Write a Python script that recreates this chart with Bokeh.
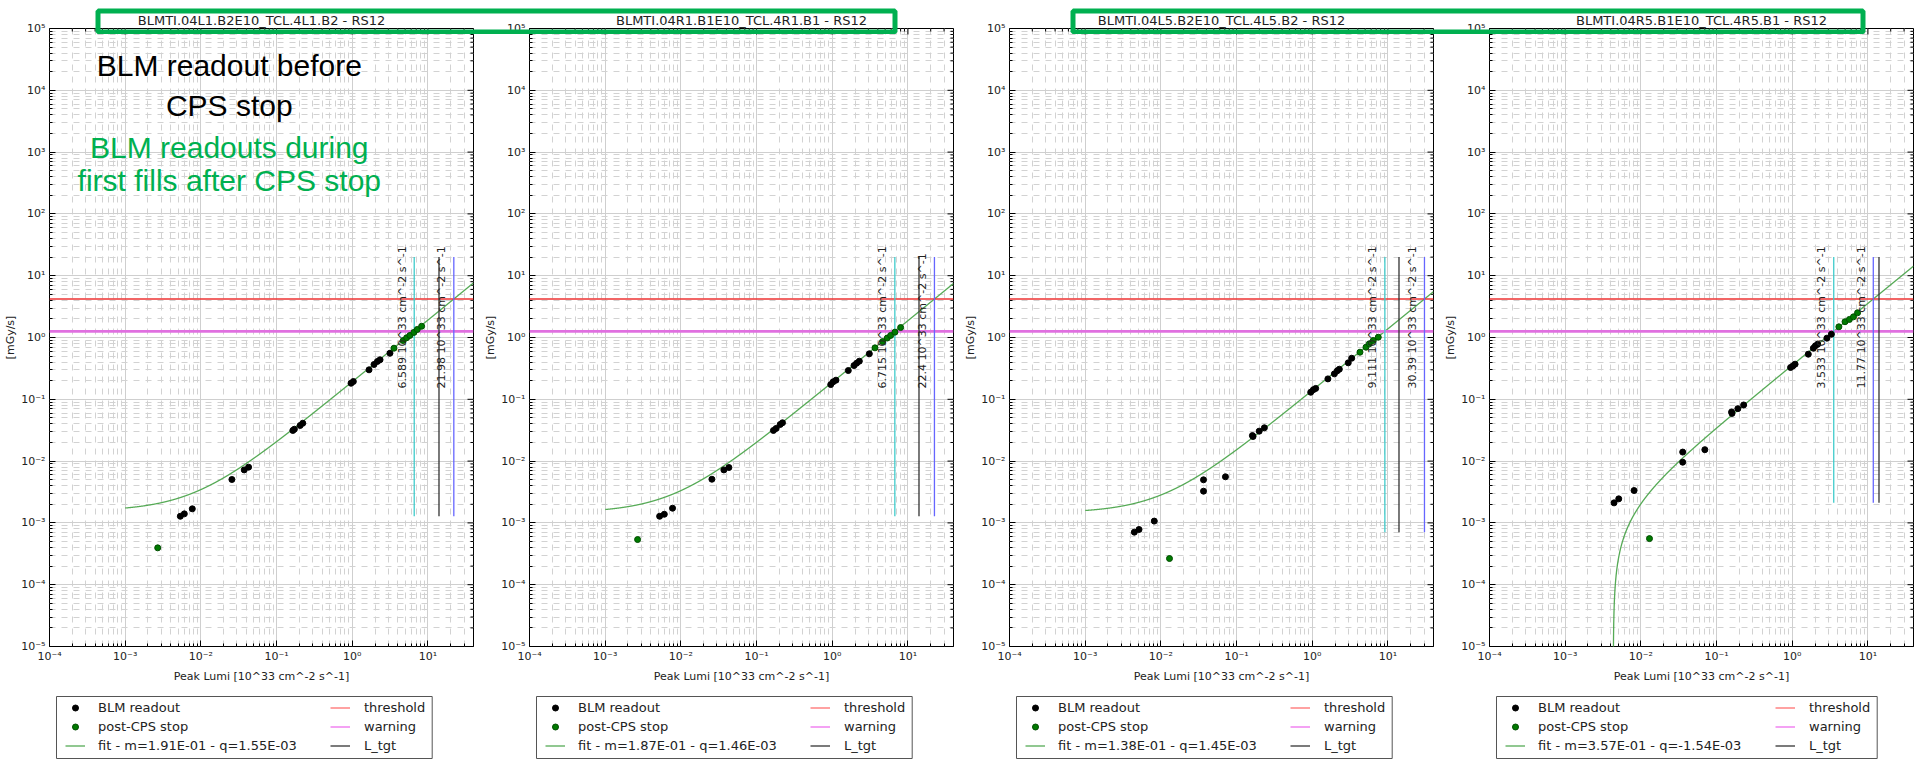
import numpy as np
from bokeh.plotting import figure
from bokeh.models import (Range1d, FixedTicker, CustomJSTickFormatter, ColumnDataSource,
                          Legend, LegendItem, Label, BoxAnnotation)
from bokeh.layouts import row, column
from bokeh.embed import file_html
from bokeh.resources import INLINE

# ------------------------------------------------------------------ data
panel_titles = ["BLMTI.04L1.B2E10_TCL.4L1.B2 - RS12",
                "BLMTI.04R1.B1E10_TCL.4R1.B1 - RS12",
                "BLMTI.04L5.B2E10_TCL.4L5.B2 - RS12",
                "BLMTI.04R5.B1E10_TCL.4R5.B1 - RS12"]

# panel 1 : BLMTI.04L1
p1_blm_lumi = [0.00535, 0.00604, 0.0077, 0.0257, 0.0374, 0.0427, 0.164, 0.172, 0.205, 0.222,
               0.964, 1.034, 1.667, 1.94, 2.15, 2.33, 3.15]
p1_blm_dose = [1.28e-3, 1.40e-3, 1.69e-3, 5.04e-3, 7.2e-3, 7.98e-3, 0.0313, 0.0328, 0.0377, 0.0410,
               0.182, 0.194, 0.30, 0.366, 0.41, 0.436, 0.557]
p1_post_lumi = [0.00269, 3.56, 4.72, 5.23, 5.78, 6.53, 7.23, 8.26]
p1_post_dose = [3.95e-4, 0.671, 0.893, 0.99, 1.08, 1.21, 1.35, 1.52]

# panel 2 : BLMTI.04R1
p2_blm_lumi = [0.00524, 0.00604, 0.00776, 0.0257, 0.0370, 0.0431, 0.167, 0.181, 0.205, 0.220,
               0.955, 1.03, 1.12, 1.63, 1.94, 2.10, 2.28, 3.09]
p2_blm_dose = [1.28e-3, 1.38e-3, 1.73e-3, 5.09e-3, 7.2e-3, 7.87e-3, 0.0313, 0.0337, 0.0391, 0.0417,
               0.173, 0.192, 0.204, 0.292, 0.352, 0.384, 0.414, 0.545]
p2_post_lumi = [0.00268, 3.67, 4.63, 5.33, 5.91, 6.73, 8.01]
p2_post_dose = [5.38e-4, 0.68, 0.86, 0.98, 1.08, 1.22, 1.45]

# panel 3 : BLMTI.04L5
p3_blm_lumi = [0.00446, 0.00514, 0.00818, 0.0366, 0.0366, 0.0713, 0.162, 0.165, 0.199, 0.233,
               0.955, 1.034, 1.11, 1.61, 1.96, 2.14, 2.28, 2.99, 3.32]
p3_blm_dose = [7.08e-4, 7.82e-4, 1.07e-3, 3.26e-3, 4.98e-3, 5.57e-3, 0.0259, 0.0250, 0.0305, 0.0346,
               0.130, 0.143, 0.150, 0.214, 0.258, 0.289, 0.307, 0.389, 0.462]
p3_post_lumi = [0.0130, 4.27, 5.13, 5.67, 6.40, 7.45]
p3_post_dose = [2.65e-4, 0.578, 0.697, 0.791, 0.894, 1.01]

# panel 4 : BLMTI.04R5
p4_blm_lumi = [0.00442, 0.0051, 0.00813, 0.0357, 0.0357, 0.070, 0.158, 0.160, 0.191, 0.228,
               0.95, 1.02, 1.09, 1.63, 1.90, 2.02, 2.17, 2.87, 3.29]
p4_blm_dose = [2.11e-3, 2.45e-3, 3.34e-3, 0.0140, 9.6e-3, 0.0153, 0.0623, 0.0591, 0.0706, 0.081,
               0.327, 0.347, 0.37, 0.537, 0.671, 0.733, 0.78, 0.976, 1.13]
p4_post_lumi = [0.0130, 4.13, 4.98, 5.69, 6.44, 7.29]
p4_post_dose = [5.57e-4, 1.49, 1.80, 1.96, 2.16, 2.51]

blm_lumi = [p1_blm_lumi, p2_blm_lumi, p3_blm_lumi, p4_blm_lumi]
blm_dose = [p1_blm_dose, p2_blm_dose, p3_blm_dose, p4_blm_dose]
post_lumi = [p1_post_lumi, p2_post_lumi, p3_post_lumi, p4_post_lumi]
post_dose = [p1_post_dose, p2_post_dose, p3_post_dose, p4_post_dose]

fit_m = [0.191, 0.187, 0.138, 0.357]
fit_q = [1.55e-3, 1.46e-3, 1.45e-3, -1.54e-3]
lumi_warning = [6.589, 6.715, 9.111, 3.533]
lumi_threshold = [21.98, 22.4, 30.39, 11.77]
lumi_target = [14.0, 14.0, 14.0, 14.0]
dose_threshold = 4.2
dose_warning = 1.26
vline_top = 20.0

XMIN, XMAX = 1e-4, 40.0
YMIN, YMAX = 1e-5, 1e5

x_major = [10.0 ** e for e in range(-4, 2)]
x_minor = [m * 10.0 ** e for e in range(-4, 2) for m in range(2, 10) if m * 10.0 ** e <= XMAX]
y_major = [10.0 ** e for e in range(-5, 6)]
y_minor = [m * 10.0 ** e for e in range(-5, 5) for m in range(2, 10)]

# ------------------------------------------------------------------ layout
TOTAL_W = 1915
HEADER_H = 34
HEADER_OVERLAP = 14
FIG_W = [480, 480, 480, 475]
FRAME_W = 424
FRAME_H = 618
BORDER_L = 49
BORDER_R = [7, 7, 7, 2]
BORDER_T = 8
BORDER_B = 40
LEGEND_H = 74
LEG_BOX = [(7, 382.7), (7, 382.7), (7, 382.7), (7, 387.7)]   # px from frame left
LEG_BOX_Y = (2, 64)                                            # px from legend-strip bottom
LEG_X = 11
RLEG_X = [276, 276, 276, 281]

GREEN = "#00b050"
FONT = "DejaVu Sans"

SUP = CustomJSTickFormatter(code="""
const sup = {"-":"\\u207b","0":"\\u2070","1":"\\u00b9","2":"\\u00b2","3":"\\u00b3",
             "4":"\\u2074","5":"\\u2075","6":"\\u2076","7":"\\u2077","8":"\\u2078","9":"\\u2079"};
const e = Math.round(Math.log10(tick));
return "10" + String(e).split("").map(c => sup[c]).join("");
""")


def fx(px_rel):
    lo, hi = np.log10(XMIN), np.log10(XMAX)
    return 10 ** (lo + px_rel / FRAME_W * (hi - lo))


def fy(py_rel):
    lo, hi = np.log10(YMIN), np.log10(YMAX)
    return 10 ** (hi - py_rel / FRAME_H * (hi - lo))


def style_axis(ax):
    ax.major_tick_in = 6
    ax.major_tick_out = 0
    ax.minor_tick_in = 3
    ax.minor_tick_out = 0
    ax.axis_line_color = None
    ax.major_tick_line_color = "black"
    ax.minor_tick_line_color = "black"
    ax.major_label_text_font = FONT
    ax.major_label_text_font_size = "11px"
    ax.major_label_text_color = "#222222"
    ax.axis_label_text_font = FONT
    ax.axis_label_text_font_size = "11px"
    ax.axis_label_text_font_style = "normal"
    ax.axis_label_text_color = "#222222"


def panel(k):
    p = figure(width=FIG_W[k], height=BORDER_T + FRAME_H + BORDER_B,
               x_axis_type="log", y_axis_type="log",
               x_range=Range1d(XMIN, XMAX), y_range=Range1d(YMIN, YMAX),
               output_backend="svg", toolbar_location=None,
               min_border_left=BORDER_L, min_border_right=BORDER_R[k],
               min_border_top=BORDER_T, min_border_bottom=BORDER_B)
    p.outline_line_color = "black"
    p.outline_line_width = 1
    p.background_fill_color = "white"
    p.border_fill_color = "white"

    xt = FixedTicker(ticks=x_major, minor_ticks=x_minor)
    yt = FixedTicker(ticks=y_major, minor_ticks=y_minor)
    p.xaxis.ticker = xt
    p.yaxis.ticker = yt
    p.xgrid.ticker = xt
    p.ygrid.ticker = yt
    p.xaxis.formatter = SUP
    p.yaxis.formatter = SUP
    p.xaxis.axis_label = "Peak Lumi [10^33 cm^-2 s^-1]"
    p.yaxis.axis_label = "[mGy/s]"
    for ax in p.xaxis + p.yaxis:
        style_axis(ax)
    p.xaxis.major_label_standoff = 3
    p.xaxis.axis_label_standoff = 4
    p.yaxis.major_label_standoff = 4
    p.yaxis.axis_label_standoff = 1

    for g in (p.xgrid, p.ygrid):
        g.grid_line_color = "#cfcfcf"
        g.grid_line_width = 1
        g.minor_grid_line_color = "#d2d2d2"
        g.minor_grid_line_dash = "6 6"
        g.minor_grid_line_width = 1

    # inner ticks on the top and right frame edges
    dec_x = FRAME_W / (np.log10(XMAX) - np.log10(XMIN))
    dec_y = FRAME_H / (np.log10(YMAX) - np.log10(YMIN))
    p.segment(x0=[XMAX] * len(y_major), y0=y_major,
              x1=[XMAX / 10 ** (6 / dec_x)] * len(y_major), y1=y_major, line_color="black")
    p.segment(x0=[XMAX] * len(y_minor), y0=y_minor,
              x1=[XMAX / 10 ** (3 / dec_x)] * len(y_minor), y1=y_minor, line_color="black")
    p.segment(x0=x_major, y0=[YMAX] * len(x_major),
              x1=x_major, y1=[YMAX / 10 ** (6 / dec_y)] * len(x_major), line_color="black")
    p.segment(x0=x_minor, y0=[YMAX] * len(x_minor),
              x1=x_minor, y1=[YMAX / 10 ** (3 / dec_y)] * len(x_minor), line_color="black")

    # fit curve
    fx_curve = np.logspace(-3, np.log10(XMAX), 3000)
    fy_curve = fit_m[k] * fx_curve + fit_q[k]
    fy_curve = np.where(fy_curve > 0, fy_curve, np.nan)
    p.line(fx_curve, fy_curve, line_color="#55aa55", line_width=1.3)

    # horizontal limits
    p.line([XMIN, XMAX], [dose_threshold, dose_threshold], line_color="#ee3333", line_width=1.3)
    p.line([XMIN, XMAX], [dose_warning, dose_warning], line_color="#e070e0", line_width=2.8)

    # vertical lumi lines
    vlow = min(blm_dose[k])
    p.line([lumi_warning[k]] * 2, [vlow, vline_top], line_color="#40cccc", line_width=1.3)
    p.line([lumi_threshold[k]] * 2, [vlow, vline_top], line_color="#6666ff", line_width=1.3)
    p.line([lumi_target[k]] * 2, [vlow, vline_top], line_color="#333333", line_width=1.3)

    # points
    p.scatter(blm_lumi[k], blm_dose[k], size=6, color="black")
    p.scatter(post_lumi[k], post_dose[k], size=6, fill_color="#007a00", line_color="#004d00")

    # rotated lumi labels
    for val in (lumi_warning[k], lumi_threshold[k]):
        p.add_layout(Label(x=val, y=0.15, text=f"{val:.4g} 10^33 cm^-2 s^-1",
                           angle=np.pi / 2, angle_units="rad", x_offset=-12,
                           text_align="left", text_baseline="alphabetic",
                           text_font=FONT, text_font_size="11px", text_color="#222222"))
    return p


def legend_fig(k):
    lp = figure(width=FIG_W[k], height=LEGEND_H, x_range=Range1d(0, FRAME_W),
                y_range=Range1d(0, LEGEND_H),
                x_axis_location=None, y_axis_location=None, output_backend="svg",
                toolbar_location=None, min_border_left=BORDER_L, min_border_right=BORDER_R[k],
                min_border_top=0, min_border_bottom=0)
    lp.outline_line_color = None
    lp.grid.visible = False
    # legend frame box
    lp.add_layout(BoxAnnotation(left=LEG_BOX[k][0], right=LEG_BOX[k][1],
                                bottom=LEG_BOX_Y[0], top=LEG_BOX_Y[1],
                                fill_color="white", fill_alpha=1.0,
                                line_color="#555555", line_alpha=1.0, line_width=1,
                                level="underlay"))
    # placeholder renderers (off-range) that only provide the legend glyphs
    dummy = ColumnDataSource(data=dict(x=[-50, -40], y=[-50, -40]))
    r_blm = lp.scatter("x", "y", source=dummy, size=6, color="black")
    r_post = lp.scatter("x", "y", source=dummy, size=6, fill_color="#007a00", line_color="#004d00")
    r_fit = lp.line("x", "y", source=dummy, line_color="#55aa55", line_width=1.3)
    r_thr = lp.line("x", "y", source=dummy, line_color="#ff7070", line_width=1.3)
    r_warn = lp.line("x", "y", source=dummy, line_color="#ee70ee", line_width=1.3)
    r_tgt = lp.line("x", "y", source=dummy, line_color="#333333", line_width=1.3)

    fit_label = f"fit - m={fit_m[k]:.2E} - q={fit_q[k]:.2E}"
    common = dict(orientation="vertical", padding=5, spacing=4, glyph_width=20, glyph_height=15,
                  label_height=15, label_width=20, label_text_font=FONT,
                  label_text_font_size="13px", label_text_color="#222222", margin=0,
                  border_line_alpha=0, background_fill_alpha=0)
    leg_l = Legend(items=[LegendItem(label="BLM readout", renderers=[r_blm]),
                          LegendItem(label="post-CPS stop", renderers=[r_post]),
                          LegendItem(label=fit_label, renderers=[r_fit])],
                   location=(LEG_X, 2), label_standoff=13, **common)
    leg_r = Legend(items=[LegendItem(label="threshold", renderers=[r_thr]),
                          LegendItem(label="warning", renderers=[r_warn]),
                          LegendItem(label="L_tgt", renderers=[r_tgt])],
                   location=(RLEG_X[k], 2), label_standoff=14, **common)
    lp.add_layout(leg_l)
    lp.add_layout(leg_r)
    return lp


panels = [panel(k) for k in range(4)]
legends = [legend_fig(k) for k in range(4)]

# overlay notes on the first panel
notes = [("BLM readout before", "black", 37), ("CPS stop", "black", 77),
         ("BLM readouts during", GREEN, 118.7), ("first fills after CPS stop", GREEN, 152)]
for txt, col, yy in notes:
    panels[0].add_layout(Label(x=fx(179.8), y=fy(yy), text=txt, text_align="center",
                               text_baseline="middle", text_font="Liberation Sans",
                               text_font_size="30px", text_color=col, level="overlay"))

# header strip (transparent, drawn over the top of the panels) with titles and green boxes
header = figure(width=TOTAL_W, height=HEADER_H, x_range=Range1d(0, TOTAL_W),
                y_range=Range1d(HEADER_H, 0), x_axis_location=None, y_axis_location=None,
                output_backend="svg", toolbar_location=None, min_border=0,
                margin=(0, 0, -HEADER_OVERLAP, 0), styles={"z-index": "10", "position": "relative"})
header.outline_line_color = None
header.grid.visible = False
header.background_fill_alpha = 0
header.border_fill_alpha = 0
box_edges = [(97.5, 894.5), (1072.5, 1862.5)]
for left, right in box_edges:
    header.add_layout(BoxAnnotation(left=left, right=right, top=10.5, bottom=31.5,
                                    fill_alpha=0, line_color=GREEN, line_alpha=1.0,
                                    line_width=5, level="annotation"))
frame_centers = [sum(FIG_W[:k]) + BORDER_L + FRAME_W / 2 for k in range(4)]
for k in range(4):
    header.add_layout(Label(x=frame_centers[k], y=19.5, text=panel_titles[k],
                            text_align="center", text_baseline="middle",
                            text_font=FONT, text_font_size="13px", text_color="#222222",
                            level="overlay"))

layout = column(header, row(*[column(panels[k], legends[k]) for k in range(4)]))
open("out.html", "w").write(file_html(layout, INLINE))
